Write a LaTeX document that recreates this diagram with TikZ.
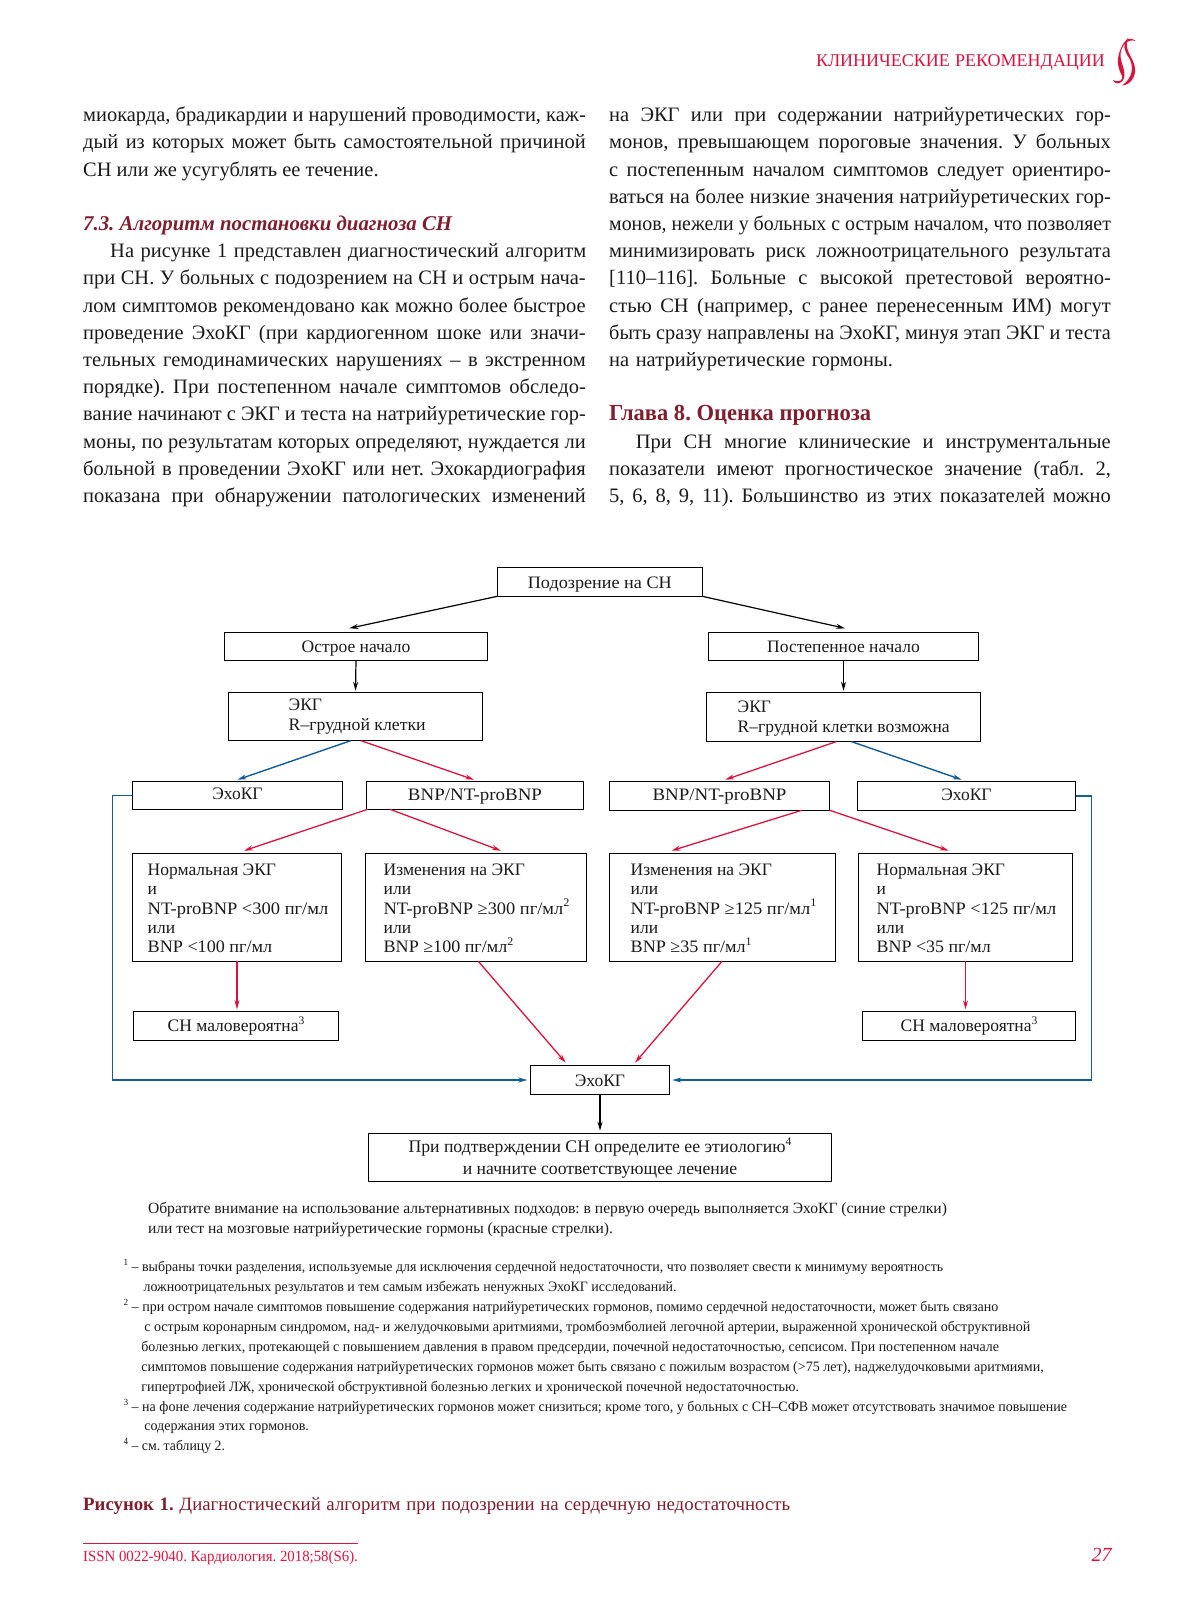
\documentclass[tikz,border=0pt]{standalone}
\usepackage{fontspec}
\usepackage{graphicx}
\setmainfont{Liberation Serif}
\usetikzlibrary{arrows.meta,calc}
\definecolor{crim}{HTML}{D9143F}
\definecolor{blu}{HTML}{135C9C}
\definecolor{wine}{HTML}{7F1F2E}
\definecolor{ink}{HTML}{1A1A1A}
\newcounter{tline}
\newcommand{\fitline}[2]{\setbox0\hbox{#2}\ifdim\wd0>#1pt\relax\resizebox{#1pt}{\height}{#2}\else\makebox[#1pt][s]{#2}\fi}
\newcommand{\fitscale}[2]{\resizebox{#1pt}{\height}{#2}}
\newcommand{\tl}[5]{\stepcounter{tline}\node[anchor=base west,inner sep=0pt,outer sep=0pt,text=ink,#4] (line\arabic{tline}) at (#1,{#2+1}) {\fitline{#3}{#5}};}
\newcommand{\sups}[1]{\smash{\raisebox{.42em}{\scalebox{.66}{#1}}}}
% box: [baseline offset from centre]{name}{x1}{y1}{x2}{y2}{text}
\newcommand{\bx}[7][5]{\pgfmathsetmacro{\hh}{(#6-#4)/2}\pgfmathsetmacro{\th}{\hh+#1}\pgfmathsetmacro{\td}{\hh-#1}\node[boxnode,minimum width={#5-#3},text height=\th pt,text depth=\td pt] (#2) at ({(#3+#5)/2},{(#4+#6)/2}) {#7};}
% left-aligned multi-line box: {pad}{name}{x1}{y1}{x2}{y2}{first baseline offset}{lines}
\newcommand{\bxl}[8]{\pgfmathsetmacro{\hh}{(#6-#4)/2}\pgfmathsetmacro{\th}{\hh+#7}\pgfmathsetmacro{\td}{\hh-#7}\pgfmathsetmacro{\twd}{#5-#3}\node[boxnode,minimum width=\twd pt,text height=\th pt,text depth=\td pt] (#2) at ({(#3+#5)/2},{(#4+#6)/2}) {\makebox[\twd pt][l]{\hspace*{#1pt}\begin{tabular}[t]{@{}l@{}}#8\end{tabular}}};}
\tikzset{
  x=1pt,y=-1pt,
  boxnode/.style={draw=black,line width=1.05pt,inner sep=0pt,outer sep=0pt,text=ink,font=\fontsize{17.5}{19.4}\selectfont},
  blk/.style={-{Stealth[length=9pt,width=5pt]},line width=1.2pt,draw=black},
  redarr/.style={-{Stealth[length=9pt,width=5pt]},line width=1.3pt,draw=crim},
  bluarr/.style={-{Stealth[length=9pt,width=5pt]},line width=1.4pt,draw=blu},
  body/.style={font=\fontsize{20.5}{27}\selectfont},
  small/.style={font=\fontsize{14.3}{20}\selectfont},
  legend/.style={font=\fontsize{15.6}{20}\selectfont},
}
\begin{document}
\frenchspacing
\begin{tikzpicture}
\useasboundingbox (0,0) rectangle (1187,1600);
% header
\tl{816}{66}{289}{text=crim,font=\fontsize{18}{20}\selectfont}{КЛИНИЧЕСКИЕ РЕКОМЕНДАЦИИ}
\fill[crim] (1135.5,41) .. controls (1131,36.5) and (1126,38) .. (1122,46) .. controls (1116,58) and (1117,66) .. (1122,76) .. controls (1123,80) and (1120,83) .. (1113,80) .. controls (1114,84) and (1121,86) .. (1124,78) .. controls (1126,70) and (1120,62) .. (1120.5,54) .. controls (1121,47) and (1127,38) .. (1135.5,41) -- cycle;
\fill[crim] (1128,38) .. controls (1122,44) and (1124,50) .. (1129,58) .. controls (1134,66) and (1133,78) .. (1122,85.5) .. controls (1131,85) and (1136,76) .. (1135,68) .. controls (1134,58) and (1123,50) .. (1128,38) -- cycle;
% left column
\def\Lx{83.2}\def\Lw{502.6}\def\Rx{609.2}\def\Rw{501.7}
\tl{\Lx}{120.7}{\Lw}{body}{миокарда, брадикардии и нарушений проводимости, каж-}
\tl{\Lx}{147.9}{\Lw}{body}{дый из которых может быть самостоятельной причиной}
\tl{\Lx}{175.1}{295.4}{body}{СН или же усугублять ее течение.}
\tl{\Lx}{229.5}{369}{text=wine,font=\fontsize{21}{27}\selectfont\bfseries\itshape}{7.3. Алгоритм постановки диагноза СН}
\tl{110.2}{256.7}{476}{body}{На рисунке 1 представлен диагностический алгоритм}
\tl{\Lx}{283.9}{\Lw}{body}{при СН. У больных с подозрением на СН и острым нача-}
\tl{\Lx}{311.1}{\Lw}{body}{лом симптомов рекомендовано как можно более быстрое}
\tl{\Lx}{338.3}{\Lw}{body}{проведение ЭхоКГ (при кардиогенном шоке или значи-}
\tl{\Lx}{365.5}{\Lw}{body}{тельных гемодинамических нарушениях – в экстренном}
\tl{\Lx}{392.7}{\Lw}{body}{порядке). При постепенном начале симптомов обследо-}
\tl{\Lx}{419.9}{\Lw}{body}{вание начинают с ЭКГ и теста на натрийуретические гор-}
\tl{\Lx}{447.1}{\Lw}{body}{моны, по результатам которых определяют, нуждается ли}
\tl{\Lx}{474.3}{\Lw}{body}{больной в проведении ЭхоКГ или нет. Эхокардиография}
\tl{\Lx}{501.5}{\Lw}{body}{показана при обнаружении патологических изменений}
% right column
\tl{\Rx}{120.7}{\Rw}{body}{на ЭКГ или при содержании натрийуретических гор-}
\tl{\Rx}{147.9}{\Rw}{body}{монов, превышающем пороговые значения. У больных}
\tl{\Rx}{175.1}{\Rw}{body}{с постепенным началом симптомов следует ориентиро-}
\tl{\Rx}{202.3}{\Rw}{body}{ваться на более низкие значения натрийуретических гор-}
\tl{\Rx}{229.5}{\Rw}{body}{монов, нежели у больных с острым началом, что позволяет}
\tl{\Rx}{256.7}{\Rw}{body}{минимизировать риск ложноотрицательного результата}
\tl{\Rx}{283.9}{\Rw}{body}{[110–116]. Больные с высокой претестовой вероятно-}
\tl{\Rx}{311.1}{\Rw}{body}{стью СН (например, с ранее перенесенным ИМ) могут}
\tl{\Rx}{338.3}{\Rw}{body}{быть сразу направлены на ЭхоКГ, минуя этап ЭКГ и теста}
\tl{\Rx}{365.5}{283.8}{body}{на натрийуретические гормоны.}
\tl{\Rx}{419.9}{262}{text=wine,font=\fontsize{23}{27}\selectfont\bfseries}{Глава 8. Оценка прогноза}
\tl{635.8}{447.1}{475}{body}{При СН многие клинические и инструментальные}
\tl{\Rx}{474.3}{\Rw}{body}{показатели имеют прогностическое значение (табл. 2,}
\tl{\Rx}{501.5}{\Rw}{body}{5, 6, 8, 9, 11). Большинство из этих показателей можно}
% boxes
\bx[6.5]{susp}{497.3}{567.3}{702.3}{596.3}{\fitscale{144}{Подозрение на СН}}
\bx[5.7]{acute}{224.3}{632.3}{487.7}{660.3}{Острое начало}
\bx[5.7]{grad}{708.3}{632.3}{978.7}{660.3}{Постепенное начало}
\bxl{60.4}{ekgl}{228.3}{692.3}{482.7}{740.7}{-5.8}{ЭКГ\\\fitscale{137}{R–грудной клетки}}
\bxl{31.4}{ekgr}{706.3}{692.3}{980.7}{741.7}{-4.3}{ЭКГ\\\fitscale{212}{R–грудной клетки возможна}}
\bx[4]{echol}{132.3}{781.3}{342.7}{809.3}{ЭхоКГ}
\bx[4.7]{bnpl}{366.3}{781.3}{583.7}{809.3}{\fitscale{134}{BNP/NT-proBNP}}
\bx[4.2]{bnpr}{609.3}{781.3}{829.7}{810.3}{\fitscale{134}{BNP/NT-proBNP}}
\bx[4.2]{echor}{857.3}{781.3}{1075.7}{810.3}{ЭхоКГ}
\bxl{15.4}{norml}{132.3}{853.3}{341.7}{961.3}{-32}{Нормальная ЭКГ\\и\\\fitscale{180.6}{NT-proBNP <300 пг/мл}\\или\\\fitscale{124.5}{BNP <100 пг/мл}}
\bxl{18.4}{chgl}{365.3}{853.3}{586.7}{961.3}{-32}{Изменения на ЭКГ\\или\\\fitscale{185.7}{NT-proBNP ≥300 пг/мл\sups{2}}\\или\\\fitscale{129.6}{BNP ≥100 пг/мл\sups{2}}}
\bxl{21.4}{chgr}{609.3}{853.3}{835.7}{961.3}{-32}{Изменения на ЭКГ\\или\\\fitscale{185.7}{NT-proBNP ≥125 пг/мл\sups{1}}\\или\\\fitscale{121}{BNP ≥35 пг/мл\sups{1}}}
\bxl{18.4}{normr}{858.3}{853.3}{1072.7}{961.3}{-32}{Нормальная ЭКГ\\и\\\fitscale{179.6}{NT-proBNP <125 пг/мл}\\или\\\fitscale{114}{BNP <35 пг/мл}}
\bx[6]{unll}{133.3}{1011.3}{338.7}{1040.3}{СН маловероятна\sups{3}}
\bx[6]{unlr}{862.3}{1011.3}{1075.7}{1040.3}{СН маловероятна\sups{3}}
\bx[6]{echoc}{530.3}{1065.3}{669.7}{1094.7}{ЭхоКГ}
\bx[-4.8]{final}{368.2}{1133.3}{831.8}{1181.3}{\begin{tabular}[t]{@{}c@{}}\fontsize{17.7}{19.4}\selectfont При подтверждении СН определите ее этиологию\sups{4}\\[2.2pt]\fontsize{17.7}{19.4}\selectfont и начните соответствующее лечение\end{tabular}}
% connectors
\coordinate (busL) at (112.3,0);
\coordinate (busR) at (1091.7,0);
\draw[blk] (susp.south west) -- ([shift={(-6.7,-4)}]acute.north);
\draw[blk] (susp.south east) -- ([shift={(1.5,-4)}]grad.north);
\draw[blk] (acute.south) -- ([yshift=1.6pt]ekgl.north);
\draw[blk] (grad.south) -- ([yshift=1.6pt]ekgr.north);
\draw[bluarr] ([xshift=-4.8pt]ekgl.south) -- ([yshift=1.6pt]echol.north);
\draw[redarr] ([xshift=5.5pt]ekgl.south) -- ([shift={(-1,-1.6)}]bnpl.north);
\draw[redarr] ([xshift=-7.5pt]ekgr.south) -- ([shift={(5.8,-1.6)}]bnpr.north);
\draw[bluarr] ([xshift=8.2pt]ekgr.south) -- ([shift={(-4.8,-1.6)}]echor.north);
\draw[redarr] ([xshift=1.4pt]bnpl.south west) -- ([shift={(7,-2.6)}]norml.north);
\draw[redarr] ([xshift=23.7pt]bnpl.south west) -- ([shift={(25,-2.6)}]chgl.north);
\draw[redarr] ([xshift=-28pt]bnpr.south east) -- ([shift={(-51,-2.6)}]chgr.north);
\draw[redarr] (bnpr.south east) -- ([shift={(-16.8,-2.6)}]normr.north);
\draw[redarr] (norml.south) -- ($(norml.south |- unll.north)+(0,-2)$);
\draw[redarr] (normr.south) -- ($(normr.south |- unlr.north)+(0,-2)$);
\draw[redarr] ([xshift=2.3pt]chgl.south) -- ([shift={(35.4,-2.6)}]echoc.north west);
\draw[redarr] ([xshift=-0.5pt]chgr.south) -- ([shift={(-34.7,-2.6)}]echoc.north east);
\draw[blk] (echoc.south) -- ([yshift=2.6pt]final.north);
\draw[bluarr] (echol.west) -| (busL |- echoc.west) -- ([xshift=-3pt]echoc.west);
\draw[bluarr] (echor.east) -| (busR |- echoc.east) -- ([xshift=2.6pt]echoc.east);
% legend
\tl{148}{1212.3}{799}{legend}{Обратите внимание на использование альтернативных подходов: в первую очередь выполняется ЭхоКГ (синие стрелки)}
\tl{148}{1232.3}{465}{legend}{или тест на мозговые натрийуретические гормоны (красные стрелки).}
% notes
\tl{123.6}{1270.7}{819.7}{small}{\sups{1} – выбраны точки разделения, используемые для исключения сердечной недостаточности, что позволяет свести к минимуму вероятность}
\tl{143.6}{1290.6}{533}{small}{ложноотрицательных результатов и тем самым избежать ненужных ЭхоКГ исследований.}
\tl{123.6}{1310.5}{874.7}{small}{\sups{2} – при остром начале симптомов повышение содержания натрийуретических гормонов, помимо сердечной недостаточности, может быть связано}
\tl{144.3}{1330.4}{886}{small}{с острым коронарным синдромом, над- и желудочковыми аритмиями, тромбоэмболией легочной артерии, выраженной хронической обструктивной}
\tl{141.4}{1350.3}{857.6}{small}{болезнью легких, протекающей с повышением давления в правом предсердии, почечной недостаточностью, сепсисом. При постепенном начале}
\tl{141.4}{1370.2}{902.3}{small}{симптомов повышение содержания натрийуретических гормонов может быть связано с пожилым возрастом (>75 лет), наджелудочковыми аритмиями,}
\tl{141.4}{1390.1}{657.6}{small}{гипертрофией ЛЖ, хронической обструктивной болезнью легких и хронической почечной недостаточностью.}
\tl{123.6}{1410}{943.4}{small}{\sups{3} – на фоне лечения содержание натрийуретических гормонов может снизиться; кроме того, у больных с СН–СФВ может отсутствовать значимое повышение}
\tl{144.3}{1429.9}{164.7}{small}{содержания этих гормонов.}
\tl{123.6}{1449.8}{101.4}{small}{\sups{4} – см. таблицу 2.}
% caption and footer
\tl{83.2}{1509}{707}{text=wine,font=\fontsize{18.8}{22}\selectfont}{\textbf{Рисунок 1.} Диагностический алгоритм при подозрении на сердечную недостаточность}
\coordinate (ruleL) at (83.2,1543.3);
\coordinate (ruleR) at (357.9,1543.3);
\draw[crim,line width=1pt] (ruleL) -- (ruleR);
\tl{83.2}{1560}{274.7}{text=crim,font=\fontsize{15.5}{20}\selectfont}{ISSN 0022-9040. Кардиология. 2018;58(S6).}
\node[anchor=base east,inner sep=0pt,text=crim,font=\fontsize{20}{24}\selectfont\itshape] (pageno) at (1111.7,1561.7) {27};
\end{tikzpicture}
\end{document}
